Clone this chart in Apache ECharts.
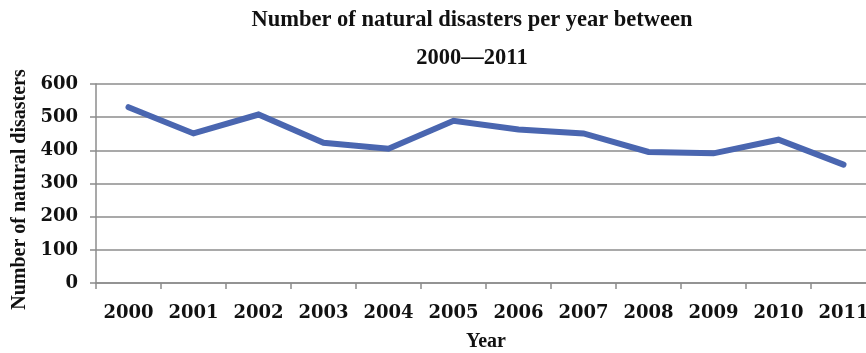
<!DOCTYPE html>
<html>
<head>
<meta charset="utf-8">
<script src="https://cdn.jsdelivr.net/npm/echarts@6/dist/echarts.min.js"></script>
<style>
  html, body { margin: 0; padding: 0; background: #ffffff; }
  #chart { width: 866px; height: 353px; }
</style>
</head>
<body>
<div id="chart"></div>
<script>
// Years on the horizontal axis
const years = ['2000', '2001', '2002', '2003', '2004', '2005', '2006', '2007', '2008', '2009', '2010', '2011'];
// Natural disasters recorded each year
const disasters = [530, 451, 508, 423, 405, 489, 463, 451, 395, 391, 432, 357];
// Vertical scale
const yMin = 0;
const yMax = 600;
const yStep = 100;

const titleText = 'Number of natural disasters per year between\n2000\u20142011';
const yTitle = 'Number of natural disasters';
const xTitle = 'Year';

const serif = '"Liberation Serif", "Times New Roman", serif';
const labelFont = '"DejaVu Serif", serif';
const gridGray = '#8c8c8c';
const lineBlue = '#4A66B0';

const chart = echarts.init(document.getElementById('chart'), null, { renderer: 'canvas' });

chart.setOption({
  backgroundColor: '#ffffff',
  animation: false,
  title: {
    text: titleText,
    left: 467,
    top: -4,
    textAlign: 'center',
    textStyle: {
      fontFamily: serif,
      fontWeight: 'bold',
      fontSize: 22.5,
      lineHeight: 38,
      color: '#111111'
    }
  },
  grid: {
    left: 96,
    right: -10,
    top: 84,
    bottom: 70,
    containLabel: false,
    outerBoundsMode: 'none'
  },
  xAxis: {
    type: 'category',
    data: years,
    boundaryGap: true,
    name: xTitle,
    nameLocation: 'middle',
    nameGap: 49,
    nameTextStyle: {
      fontFamily: serif,
      fontWeight: 'bold',
      fontSize: 20,
      color: '#111111'
    },
    axisLine: { show: true, lineStyle: { color: gridGray, width: 1.5 } },
    axisTick: { show: true, interval: 0, length: 6, alignWithLabel: false, lineStyle: { color: gridGray, width: 1.5 } },
    axisLabel: {
      interval: 0,
      hideOverlap: false,
      margin: 21,
      fontFamily: labelFont,
      fontWeight: 'bold',
      fontSize: 18,
      color: '#111111'
    },
    splitLine: { show: false }
  },
  yAxis: {
    type: 'value',
    min: yMin,
    max: yMax,
    interval: yStep,
    name: yTitle,
    nameLocation: 'middle',
    nameRotate: 90,
    nameGap: 64,
    nameTextStyle: {
      fontFamily: serif,
      fontWeight: 'bold',
      fontSize: 20,
      color: '#111111',
      padding: [0, 12, 0, 0]
    },
    axisLine: { show: true, lineStyle: { color: gridGray, width: 1.5 } },
    axisTick: { show: true, length: 6, lineStyle: { color: gridGray, width: 1.5 } },
    axisLabel: {
      margin: 18,
      fontFamily: labelFont,
      fontWeight: 'bold',
      fontSize: 18,
      color: '#111111'
    },
    splitLine: { show: true, lineStyle: { color: gridGray, width: 1.5 } }
  },
  series: [{
    type: 'line',
    data: disasters,
    symbol: 'none',
    lineStyle: { color: lineBlue, width: 6, cap: 'round', join: 'miter' },
    itemStyle: { color: lineBlue }
  }]
});
</script>
</body>
</html>
